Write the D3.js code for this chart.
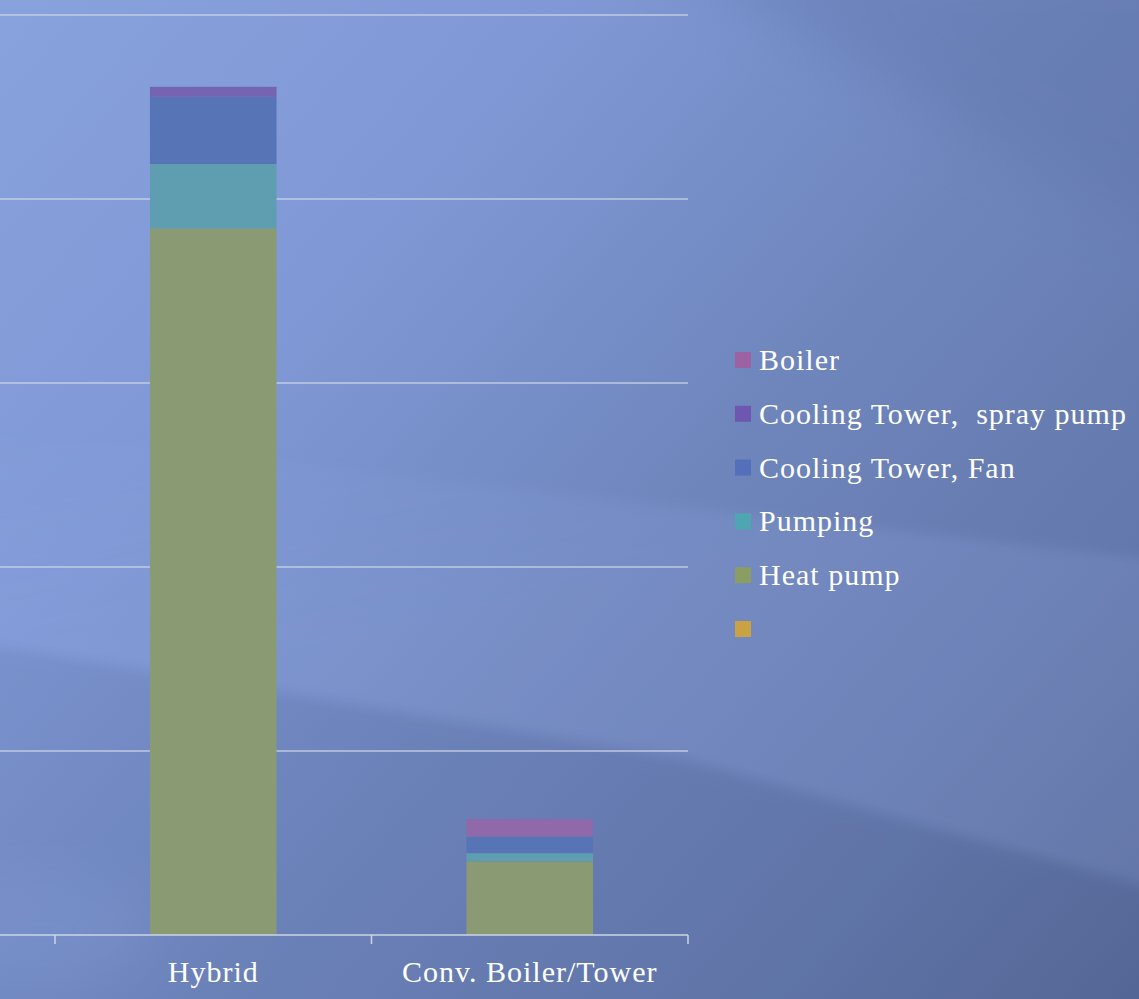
<!DOCTYPE html>
<html>
<head>
<meta charset="utf-8">
<script src="https://cdn.jsdelivr.net/npm/d3@7/dist/d3.min.js"></script>
<style>
  html, body { margin: 0; padding: 0; background: #6d84bd; }
  svg { display: block; }
</style>
</head>
<body>
<script>
// Energy use by component, stacked per system type
const categories = ["Hybrid", "Conv. Boiler/Tower"];
const seriesNames = ["", "Heat pump", "Pumping", "Cooling Tower, Fan", "Cooling Tower,  spray pump", "Boiler"];
const blankValues   = [0, 0];
const heatPump      = [3.84, 0.40];
const pumping       = [0.35, 0.045];
const ctFan         = [0.365, 0.09];
const ctSprayPump   = [0.055, 0.0];
const boiler        = [0.0, 0.095];
const yTicks = [0, 1, 2, 3, 4, 5];

const barColors    = ["#c9a243", "#8a9b74", "#5f9db0", "#5674b6", "#7564b2", "#8f69a9"];
const swatchColors = ["#c9a243", "#8a9d63", "#4ea6b2", "#5470bb", "#6e57b1", "#9d62a2"];

const W = 1139, H = 999;
const FONT = "'Liberation Serif', 'DejaVu Serif', serif";
const svg = d3.select("body").append("svg").attr("width", W).attr("height", H);
const defs = svg.append("defs");

// Background: diagonal blue gradient with soft light and dark sweeps
const bg = defs.append("linearGradient").attr("id", "bg")
  .attr("gradientUnits", "userSpaceOnUse")
  .attr("x1", 0).attr("y1", 0).attr("x2", W).attr("y2", H);
bg.append("stop").attr("offset", "0").attr("stop-color", "#88a2de");
bg.append("stop").attr("offset", "0.28").attr("stop-color", "#8099d6");
bg.append("stop").attr("offset", "0.55").attr("stop-color", "#6f86bd");
bg.append("stop").attr("offset", "0.8").attr("stop-color", "#6378ac");
bg.append("stop").attr("offset", "1").attr("stop-color", "#566896");
svg.append("rect").attr("width", W).attr("height", H).attr("fill", "url(#bg)");

const soft = defs.append("filter").attr("id", "soft").attr("x", "-20%").attr("y", "-20%").attr("width", "140%").attr("height", "140%");
soft.append("feGaussianBlur").attr("stdDeviation", 30);
const edge = defs.append("filter").attr("id", "edge").attr("x", "-20%").attr("y", "-20%").attr("width", "140%").attr("height", "140%");
edge.append("feGaussianBlur").attr("stdDeviation", 6);

const band = defs.append("linearGradient").attr("id", "band")
  .attr("gradientUnits", "userSpaceOnUse")
  .attr("x1", 0).attr("y1", 430).attr("x2", 60).attr("y2", 700);
band.append("stop").attr("offset", "0").attr("stop-color", "#9cb3ee").attr("stop-opacity", 0);
band.append("stop").attr("offset", "1").attr("stop-color", "#9cb3ee").attr("stop-opacity", 0.16);

// top-right darker sweep
svg.append("path").attr("d", "M650,-60 L1220,-60 L1220,260 L950,120 Z")
  .attr("fill", "#5a70a6").attr("opacity", 0.35).attr("filter", "url(#soft)");
// light band with a crisp lower edge running down to the right
svg.append("path").attr("d", "M-20,430 L1160,560 L1160,890 L680,757 L-20,640 Z")
  .attr("fill", "url(#band)").attr("filter", "url(#edge)");
// darker lower region beneath that edge
svg.append("path").attr("d", "M-20,645 L680,762 L1160,895 L1160,1020 L-20,1020 Z")
  .attr("fill", "#4d5f92").attr("opacity", 0.12).attr("filter", "url(#edge)");
// faint light patch at bottom-left
svg.append("ellipse").attr("cx", 40).attr("cy", 930).attr("rx", 120).attr("ry", 60)
  .attr("fill", "#8ea6e0").attr("opacity", 0.2).attr("filter", "url(#soft)");

// Scales
const x = d3.scaleBand().domain(categories).range([55, 688]).paddingInner(0.6).paddingOuter(0.3);
const y = d3.scaleLinear().domain([0, 5]).range([935, 15]);

// Gridlines
svg.append("g").selectAll("line").data(yTicks.filter(t => t > 0)).join("line")
  .attr("x1", 0).attr("x2", 688)
  .attr("y1", d => y(d)).attr("y2", d => y(d))
  .attr("stroke", "#cdd5e6").attr("stroke-width", 1.5).attr("opacity", 0.85);

// Stacked bars
const rows = categories.map((c, i) => ({
  cat: c,
  "": blankValues[i],
  "Heat pump": heatPump[i],
  "Pumping": pumping[i],
  "Cooling Tower, Fan": ctFan[i],
  "Cooling Tower,  spray pump": ctSprayPump[i],
  "Boiler": boiler[i]
}));
const stacked = d3.stack().keys(seriesNames)(rows);
const color = d3.scaleOrdinal().domain(seriesNames).range(barColors);

svg.append("g").selectAll("g").data(stacked).join("g")
  .attr("fill", d => color(d.key))
  .selectAll("rect").data(d => d).join("rect")
  .attr("x", d => x(d.data.cat))
  .attr("width", x.bandwidth())
  .attr("y", d => y(d[1]))
  .attr("height", d => y(d[0]) - y(d[1]));

// Category axis
const xAxis = svg.append("g");
xAxis.append("line").attr("x1", 0).attr("x2", 688).attr("y1", y(0)).attr("y2", y(0))
  .attr("stroke", "#cdd5e6").attr("stroke-width", 1.5);
const tickXs = [55].concat(categories.map(c => x(c) + x.bandwidth() / 2 + x.step() / 2));
xAxis.selectAll("line.tick").data(tickXs).join("line").attr("class", "tick")
  .attr("x1", d => d).attr("x2", d => d).attr("y1", y(0)).attr("y2", y(0) + 9)
  .attr("stroke", "#cdd5e6").attr("stroke-width", 1.5);
xAxis.selectAll("text").data(categories).join("text")
  .attr("x", d => x(d) + x.bandwidth() / 2)
  .attr("y", 982)
  .attr("text-anchor", "middle")
  .attr("font-family", FONT)
  .attr("font-size", 30)
  .attr("letter-spacing", 1)
  .attr("fill", "#ffffff")
  .text(d => d);

// Legend (top series first)
const legendItems = seriesNames.slice().reverse();
const swatch = d3.scaleOrdinal().domain(seriesNames).range(swatchColors);
const lg = svg.append("g").attr("transform", "translate(735,0)");
const item = lg.selectAll("g").data(legendItems).join("g")
  .attr("transform", (d, i) => `translate(0,${360 + i * 53.8})`);
item.append("rect").attr("x", 0).attr("y", -8).attr("width", 16).attr("height", 16)
  .attr("fill", d => swatch(d));
item.append("text").attr("x", 24).attr("y", 10)
  .attr("font-family", FONT)
  .attr("font-size", 30)
  .attr("letter-spacing", 1)
  .attr("fill", "#ffffff")
  .style("white-space", "pre")
  .text(d => d);
</script>
</body>
</html>
